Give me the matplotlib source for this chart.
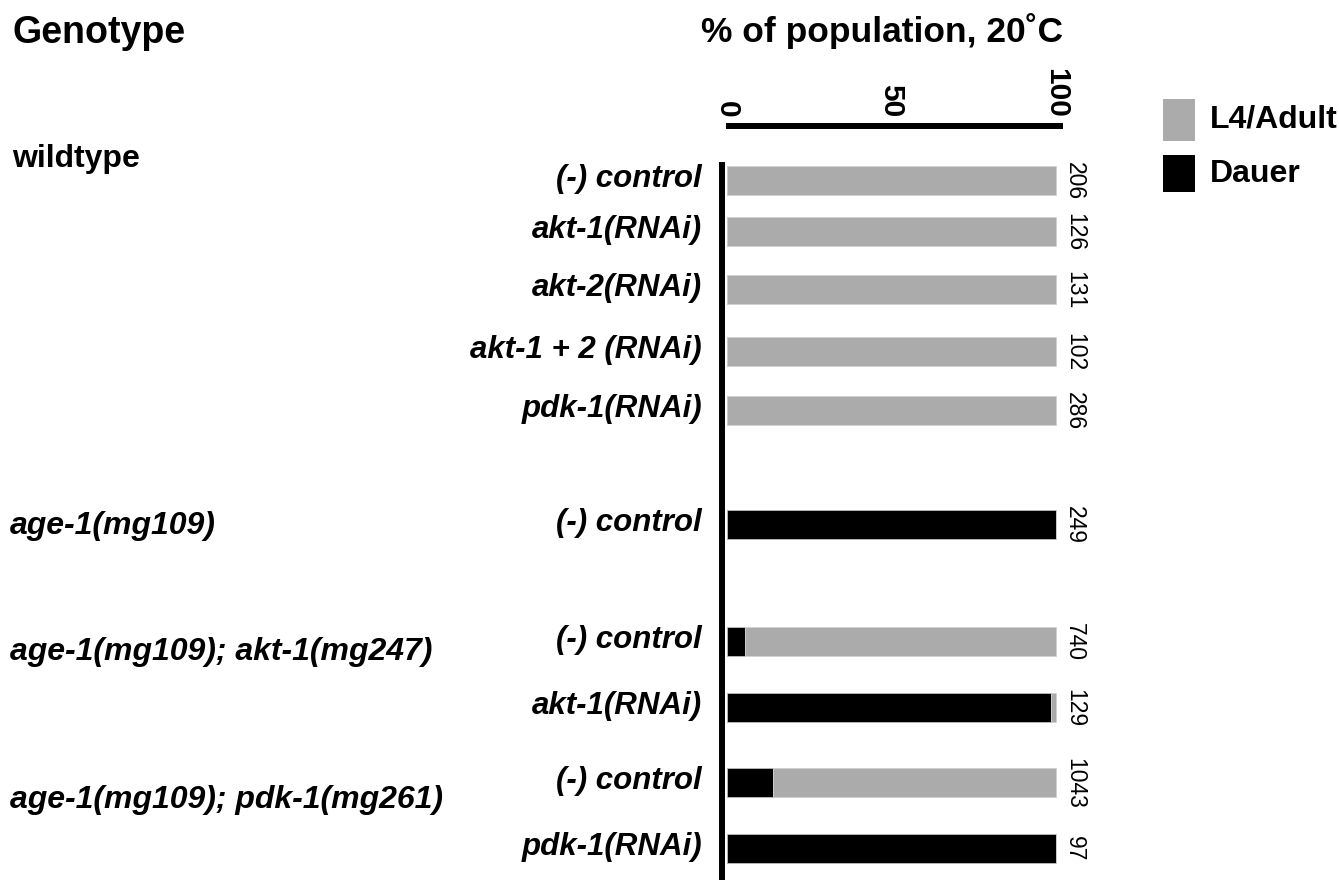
import matplotlib
matplotlib.use("Agg")
import matplotlib.pyplot as plt
from matplotlib.patches import Rectangle

plt.rcParams["font.family"] = ["Liberation Sans", "DejaVu Sans"]

conditions = ["(-) control", "akt-1(RNAi)", "akt-2(RNAi)", "akt-1 + 2 (RNAi)", "pdk-1(RNAi)",
              "(-) control", "(-) control", "akt-1(RNAi)", "(-) control", "pdk-1(RNAi)"]
dauer = [0, 0, 0, 0, 0, 100, 5.5, 98.4, 14, 100]
adult = [100 - d for d in dauer]
counts = [206, 126, 131, 102, 286, 249, 740, 129, 1043, 97]
genotypes = ["wildtype", "age-1(mg109)", "age-1(mg109); akt-1(mg247)", "age-1(mg109); pdk-1(mg261)"]

# layout (pixel rows of the original figure)
W, H = 1339, 880
row_y = [181, 232, 290, 352, 411, 525, 642, 708, 783, 849]
geno_y = [167, 526, 652, 800]
x0_px, x100_px = 727, 1056
ax_left, ax_right, ax_top = 722, 1060, 126
ppu = (x100_px - x0_px) / 100.0

fig = plt.figure(figsize=(W / 100, H / 100), dpi=100)
ax = fig.add_axes([ax_left / W, 0, (ax_right - ax_left) / W, 1 - ax_top / H])
ax.set_xlim((ax_left - x0_px) / ppu, (ax_right - x0_px) / ppu)
ax.set_ylim(H, ax_top)

GRAY, BLACK = "#ababab", "#000000"
ax.barh(row_y, dauer, height=29, color=BLACK, edgecolor="#bbbbbb", linewidth=0.6)
ax.barh(row_y, adult, left=dauer, height=29, color=GRAY, edgecolor="#d0d0d0", linewidth=0.6)

for y, n in zip(row_y, counts):
    ax.annotate(str(n), xy=(100, y), xytext=(5, 0), textcoords="offset points",
                rotation=270, ha="left", va="center", fontsize=16.5)
for y, c in zip(row_y, conditions):
    ax.annotate(c, xy=(0, y), xytext=(-18, 1.5), textcoords="offset points",
                ha="right", va="center", fontsize=22.5, fontweight="bold", style="italic")

for s in ("right", "bottom"):
    ax.spines[s].set_visible(False)
ax.spines["top"].set_linewidth(4.3)
ax.spines["top"].set_bounds(0.5, (ax_right - x0_px) / ppu)
ax.spines["left"].set_linewidth(4.3)
ax.spines["left"].set_bounds(165, H)
ax.xaxis.tick_top()
ax.set_xticks([0, 50, 100])
ax.set_xticklabels(["0", "50", "100"], rotation=270, fontsize=21.5, fontweight="bold")
ax.tick_params(axis="x", length=0, pad=6)
ax.set_yticks([])

def fx(x): return x / W
def fy(y): return 1 - y / H

fig.text(fx(12), fy(43), "Genotype", fontsize=27, fontweight="bold", ha="left", va="baseline")
fig.text(fx(1063), fy(42), "% of population, 20\u02daC", fontsize=25.5, fontweight="bold",
         ha="right", va="baseline")
for i, (g, y) in enumerate(zip(genotypes, geno_y)):
    if i == 0:
        fig.text(fx(12), fy(y), g, fontsize=23, fontweight="bold", ha="left", va="baseline")
    else:
        fig.text(fx(10), fy(y), g, fontsize=23, fontweight="bold", style="italic",
                 ha="left", va="center")

# legend
for lab, col, y0, h in [("L4/Adult", GRAY, 99, 42), ("Dauer", BLACK, 155, 37)]:
    fig.patches.append(Rectangle((fx(1163), fy(y0 + h)), 32 / W, h / H, transform=fig.transFigure,
                                 facecolor=col, edgecolor="none"))
    fig.text(fx(1210), fy(y0 + h / 2), lab, fontsize=23, fontweight="bold", ha="left", va="center")

fig.savefig("out.png", dpi=100)
